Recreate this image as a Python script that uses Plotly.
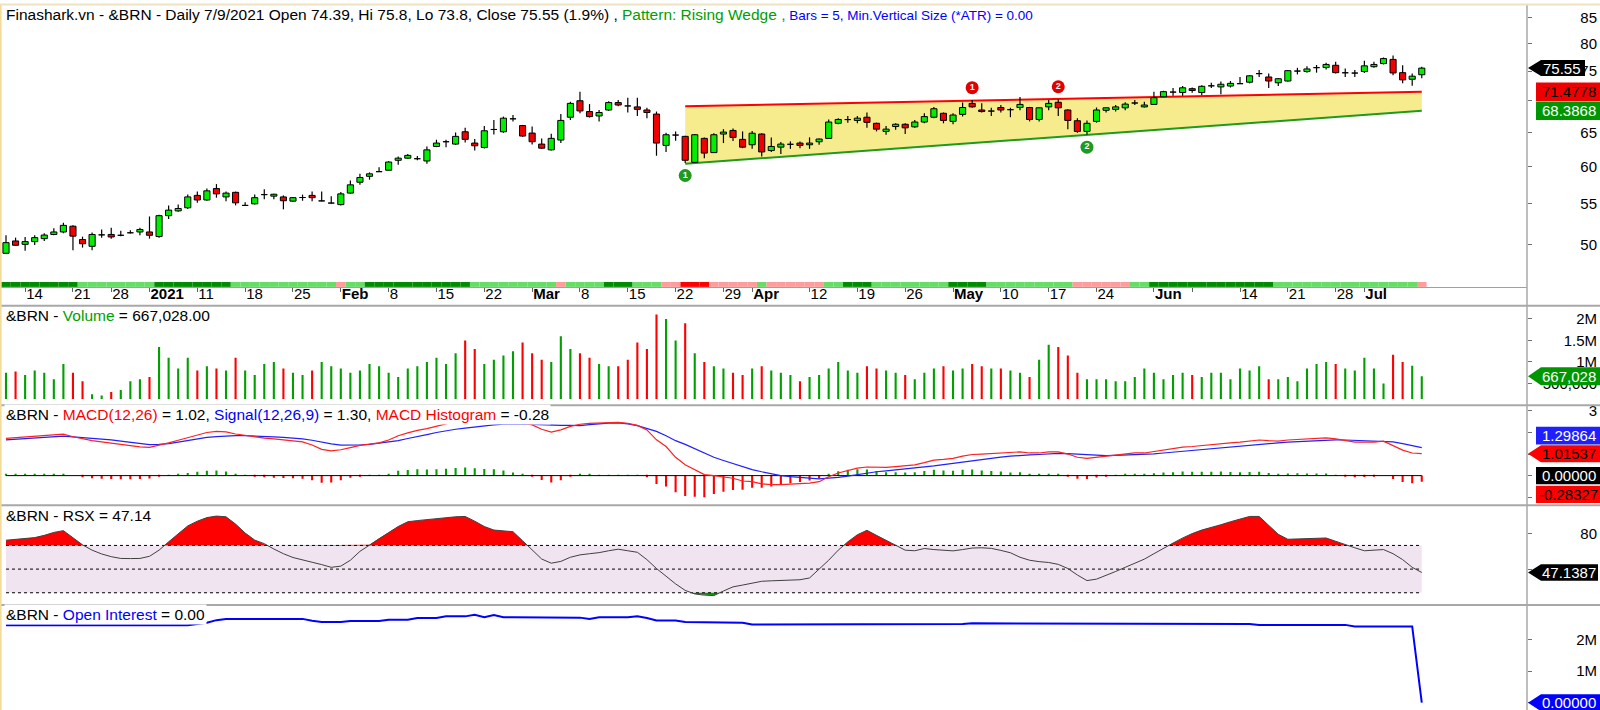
import math
import pandas as pd
import plotly.graph_objects as go

# ---------------------------------------------------------------- data
dates = pd.bdate_range("2020-12-10", "2021-07-09", freq="C",
                       holidays=["2020-12-25", "2021-01-01", "2021-04-02"])

open_ = [48.99, 50.43, 50.03, 50.35, 50.70, 51.20, 51.50, 52.20, 50.60, 49.80,
         51.15, 51.20, 51.10, 51.40, 51.50, 51.50, 50.95, 53.50, 54.10, 54.50,
         56.10, 55.50, 57.00, 55.90, 56.50, 54.80, 55.00, 56.20, 56.00, 55.90,
         55.35, 55.82, 56.10, 55.38, 55.10, 54.90, 56.40, 57.85, 58.66, 59.30,
         59.50, 60.90, 61.20, 61.12, 60.80, 62.90, 63.60, 63.25, 65.10, 63.40,
         62.75, 65.45, 65.10, 67.10, 66.05, 64.90, 63.25, 62.40, 63.85, 67.35,
         70.00, 68.25, 67.55, 68.50, 69.70, 69.15, 69.00, 68.50, 67.85, 63.05,
         64.60, 64.40, 60.60, 64.10, 62.00, 64.75, 65.30, 63.95, 63.15, 64.75,
         62.30, 62.80, 63.22, 63.40, 63.15, 63.60, 64.10, 66.40, 66.98, 66.85,
         67.35, 66.40, 65.15, 65.90, 66.25, 65.85, 66.60, 67.35, 67.97, 66.70,
         67.80, 69.57, 68.50, 68.33, 68.90, 68.55, 68.90, 68.90, 67.00, 69.00,
         69.75, 68.50, 66.80, 65.15, 66.70, 68.45, 68.60, 68.85, 69.63, 69.00,
         69.40, 70.65, 71.43, 71.35, 72.00, 71.35, 72.48, 72.30, 72.45, 72.85,
         73.10, 74.58, 74.00, 73.00, 73.30, 75.03, 74.95, 75.63, 75.65, 76.05,
         74.73, 74.68, 74.95, 75.80, 76.35, 77.10, 74.75, 73.60, 74.39]
high = [51.10, 50.82, 50.90, 51.10, 51.34, 51.95, 52.62, 52.30, 50.94, 51.42,
        51.80, 52.00, 51.64, 51.70, 52.00, 53.40, 53.60, 54.80, 54.90, 56.20,
        56.60, 57.00, 57.60, 56.60, 56.60, 55.20, 56.20, 56.90, 56.30, 56.10,
        55.90, 56.20, 56.60, 56.60, 56.00, 56.55, 58.10, 59.00, 59.20, 59.90,
        60.75, 61.45, 61.80, 61.50, 62.90, 63.90, 63.90, 65.00, 65.70, 64.00,
        66.00, 66.90, 67.45, 67.70, 66.15, 65.90, 64.10, 64.80, 67.85, 69.85,
        71.50, 69.45, 68.50, 69.90, 70.10, 70.50, 70.50, 68.85, 68.25, 64.95,
        65.15, 64.50, 64.75, 64.25, 64.88, 65.50, 65.60, 65.15, 65.20, 64.88,
        64.25, 63.55, 63.65, 63.65, 64.25, 64.10, 67.00, 67.20, 67.55, 67.55,
        68.10, 66.50, 66.00, 66.40, 66.40, 66.90, 67.97, 69.00, 68.10, 67.97,
        69.70, 70.10, 69.57, 68.85, 69.30, 68.85, 70.60, 69.00, 68.90, 70.10,
        70.25, 68.60, 67.20, 66.85, 68.90, 68.90, 69.30, 69.75, 70.10, 69.85,
        71.50, 71.65, 72.10, 72.45, 72.20, 72.60, 73.00, 73.20, 73.30, 74.00,
        74.30, 75.20, 74.60, 73.80, 75.20, 75.60, 75.90, 76.10, 76.50, 76.70,
        75.50, 75.20, 76.85, 76.70, 77.45, 77.80, 76.05, 74.60, 75.80]
low = [48.90, 49.85, 49.28, 49.96, 50.43, 51.10, 51.34, 49.33, 49.65, 49.33,
       50.82, 50.70, 51.00, 51.30, 51.10, 50.70, 50.82, 53.10, 54.00, 54.35,
       55.13, 55.40, 55.80, 55.35, 54.80, 54.75, 54.90, 55.60, 55.60, 54.30,
       55.25, 55.40, 55.35, 55.35, 55.05, 54.80, 56.30, 57.50, 58.20, 59.25,
       59.45, 60.25, 61.10, 60.90, 60.40, 62.80, 62.80, 63.10, 63.50, 62.30,
       62.60, 64.70, 64.95, 66.70, 64.35, 63.20, 62.55, 62.30, 63.40, 66.90,
       67.97, 67.30, 66.70, 68.35, 69.10, 68.10, 67.55, 67.20, 61.55, 62.10,
       63.75, 60.50, 60.50, 61.20, 61.93, 63.40, 63.70, 62.65, 62.55, 61.45,
       62.10, 61.80, 62.55, 62.65, 62.55, 63.15, 64.00, 66.25, 66.50, 66.40,
       65.70, 65.15, 64.65, 65.40, 64.75, 65.70, 66.40, 67.20, 66.40, 66.25,
       67.45, 68.85, 68.10, 67.55, 68.10, 67.35, 68.45, 66.70, 66.70, 68.45,
       67.55, 65.50, 64.95, 64.65, 66.50, 68.10, 68.25, 68.45, 69.30, 68.90,
       69.30, 70.60, 70.80, 70.80, 71.30, 70.90, 72.10, 71.05, 72.20, 72.80,
       72.90, 74.00, 72.10, 72.45, 73.20, 74.45, 74.75, 74.75, 75.30, 74.60,
       74.00, 74.00, 74.70, 75.60, 76.20, 74.30, 72.90, 72.50, 73.80]
close = [50.23, 49.92, 50.35, 50.82, 51.13, 51.50, 52.30, 51.00, 50.10, 51.20,
         51.20, 50.90, 51.12, 51.44, 51.80, 51.10, 53.50, 54.20, 54.40, 55.90,
         55.50, 56.70, 56.30, 56.40, 55.13, 54.82, 55.80, 56.25, 56.25, 55.40,
         55.80, 55.85, 55.80, 55.40, 55.13, 56.30, 57.50, 58.50, 59.00, 59.35,
         60.65, 61.20, 61.60, 61.15, 62.40, 63.40, 63.65, 64.40, 63.95, 63.00,
         65.25, 65.50, 67.20, 67.20, 64.45, 63.60, 62.65, 64.10, 66.85, 69.57,
         68.35, 67.45, 68.10, 69.70, 69.30, 69.10, 68.60, 68.10, 63.40, 64.65,
         64.65, 60.90, 64.65, 61.93, 64.65, 65.05, 64.25, 62.80, 64.88, 62.10,
         62.90, 63.25, 63.25, 63.05, 63.40, 64.00, 66.60, 67.00, 67.00, 67.20,
         66.55, 65.50, 65.50, 66.25, 65.70, 66.60, 67.45, 68.70, 66.85, 67.70,
         68.90, 69.00, 68.25, 68.35, 68.50, 68.60, 69.40, 67.00, 68.85, 69.57,
         68.85, 66.85, 65.15, 66.40, 68.50, 68.85, 69.00, 69.45, 69.65, 69.30,
         70.50, 71.50, 71.45, 72.15, 71.70, 72.40, 72.50, 72.75, 72.90, 72.90,
         74.20, 74.60, 73.30, 73.70, 75.10, 75.05, 75.40, 75.65, 76.20, 74.75,
         74.75, 74.70, 75.95, 76.20, 77.25, 74.70, 73.50, 74.14, 75.55]

volume_m = [0.75, 0.78, 0.70, 0.80, 0.75, 0.60, 0.95, 0.75, 0.55, 0.25,
            0.22, 0.30, 0.35, 0.55, 0.60, 0.65, 1.35, 1.10, 0.85, 1.10,
            0.80, 0.90, 0.85, 0.80, 1.10, 0.80, 0.70, 0.95, 1.00, 0.85,
            0.75, 0.70, 0.80, 1.00, 0.90, 0.85, 0.75, 0.80, 0.95, 0.90,
            0.75, 0.65, 0.85, 0.90, 1.00, 1.10, 0.95, 1.20, 1.50, 1.30,
            0.95, 1.05, 1.15, 1.25, 1.45, 1.20, 1.05, 1.00, 1.60, 1.30,
            1.20, 1.10, 0.95, 0.90, 0.90, 1.05, 1.45, 1.30, 2.10, 2.00,
            1.50, 1.90, 1.20, 1.00, 0.90, 0.85, 0.75, 0.70, 0.85, 0.90,
            0.80, 0.75, 0.70, 0.55, 0.65, 0.70, 0.85, 1.00, 0.80, 0.75,
            0.90, 0.85, 0.80, 0.75, 0.70, 0.60, 0.75, 0.85, 0.90, 0.80,
            0.85, 0.95, 0.90, 0.85, 0.85, 0.80, 0.75, 0.65, 1.05, 1.40,
            1.35, 1.15, 0.75, 0.60, 0.60, 0.60, 0.55, 0.55, 0.65, 0.85,
            0.75, 0.60, 0.70, 0.75, 0.70, 0.65, 0.75, 0.75, 0.60, 0.85,
            0.80, 0.90, 0.60, 0.60, 0.65, 0.55, 0.85, 0.95, 1.00, 0.95,
            0.85, 0.80, 1.10, 0.85, 0.50, 1.17, 1.00, 0.91, 0.667028]

macd = [1.73, 1.76, 1.78, 1.81, 1.85, 1.90, 1.92, 1.80, 1.70, 1.62,
        1.56, 1.50, 1.43, 1.38, 1.33, 1.31, 1.40, 1.52, 1.64, 1.75,
        1.88, 2.00, 2.05, 2.03, 1.93, 1.86, 1.80, 1.74, 1.70, 1.66,
        1.62, 1.56, 1.42, 1.22, 1.15, 1.20, 1.30, 1.40, 1.46, 1.52,
        1.65, 1.85, 1.98, 2.10, 2.18, 2.30, 2.40, 2.50, 2.58, 2.60,
        2.62, 2.64, 2.62, 2.55, 2.45, 2.35, 2.15, 2.02, 2.12, 2.28,
        2.38, 2.42, 2.44, 2.46, 2.47, 2.42, 2.33, 2.12, 1.66, 1.35,
        0.85, 0.50, 0.27, 0.05, 0.00, -0.05, -0.12, -0.25, -0.28, -0.38,
        -0.42, -0.42, -0.40, -0.40, -0.35, -0.28, -0.05, 0.12, 0.25, 0.35,
        0.40, 0.40, 0.38, 0.42, 0.45, 0.50, 0.60, 0.72, 0.75, 0.80,
        0.90, 0.98, 1.00, 1.02, 1.05, 1.05, 1.10, 1.05, 1.05, 1.10,
        1.10, 1.00, 0.85, 0.80, 0.85, 0.90, 0.95, 1.00, 1.05, 1.05,
        1.12, 1.20, 1.25, 1.32, 1.35, 1.40, 1.45, 1.50, 1.52, 1.55,
        1.60, 1.65, 1.62, 1.60, 1.65, 1.68, 1.70, 1.72, 1.75, 1.70,
        1.62, 1.55, 1.55, 1.55, 1.60, 1.40, 1.18, 1.05, 1.01537]
signal = [1.66, 1.69, 1.71, 1.73, 1.77, 1.81, 1.83, 1.80, 1.77, 1.74,
          1.70, 1.66, 1.60, 1.55, 1.49, 1.44, 1.45, 1.48, 1.55, 1.63,
          1.70, 1.77, 1.81, 1.84, 1.85, 1.85, 1.84, 1.82, 1.80, 1.77,
          1.74, 1.70, 1.64, 1.55, 1.47, 1.41, 1.40, 1.42, 1.45, 1.50,
          1.56, 1.62, 1.72, 1.80, 1.90, 2.00, 2.08, 2.15, 2.20, 2.26,
          2.31, 2.35, 2.38, 2.40, 2.40, 2.37, 2.35, 2.34, 2.33, 2.33,
          2.32, 2.36, 2.40, 2.43, 2.44, 2.40, 2.32, 2.20, 2.05, 1.85,
          1.62, 1.45, 1.25, 1.05, 0.85, 0.70, 0.55, 0.40, 0.28, 0.18,
          0.08, 0.00, -0.05, -0.10, -0.12, -0.15, -0.12, -0.08, -0.02, 0.05,
          0.12, 0.18, 0.22, 0.26, 0.30, 0.34, 0.39, 0.45, 0.51, 0.57,
          0.63, 0.70, 0.76, 0.81, 0.86, 0.90, 0.94, 0.96, 0.98, 1.01,
          1.03, 1.02, 0.99, 0.96, 0.94, 0.93, 0.94, 0.95, 0.97, 0.99,
          1.01, 1.05, 1.09, 1.13, 1.17, 1.22, 1.27, 1.31, 1.35, 1.39,
          1.43, 1.47, 1.50, 1.52, 1.55, 1.57, 1.60, 1.62, 1.65, 1.66,
          1.65, 1.63, 1.61, 1.60, 1.60, 1.56, 1.48, 1.40, 1.29864]
macd_hist = [0.07, 0.07, 0.07, 0.08, 0.08, 0.09, 0.09, 0.00, -0.07, -0.12,
             -0.14, -0.16, -0.17, -0.17, -0.16, -0.13, -0.05, 0.04, 0.09, 0.12,
             0.18, 0.23, 0.24, 0.19, 0.08, 0.01, -0.04, -0.08, -0.10, -0.11,
             -0.12, -0.14, -0.22, -0.33, -0.32, -0.21, -0.10, -0.02, 0.01, 0.02,
             0.09, 0.23, 0.26, 0.30, 0.28, 0.30, 0.32, 0.35, 0.38, 0.34,
             0.31, 0.29, 0.24, 0.15, 0.05, -0.02, -0.20, -0.32, -0.21, -0.05,
             0.06, 0.06, 0.04, 0.03, 0.03, 0.02, 0.01, -0.08, -0.39, -0.50,
             -0.77, -0.95, -0.98, -1.00, -0.85, -0.75, -0.67, -0.65, -0.56, -0.56,
             -0.50, -0.42, -0.35, -0.30, -0.23, -0.13, 0.07, 0.20, 0.27, 0.30,
             0.28, 0.22, 0.16, 0.16, 0.15, 0.16, 0.21, 0.27, 0.24, 0.23,
             0.27, 0.28, 0.24, 0.21, 0.19, 0.15, 0.16, 0.09, 0.07, 0.09,
             0.07, -0.02, -0.14, -0.16, -0.09, -0.03, 0.01, 0.05, 0.08, 0.06,
             0.11, 0.15, 0.16, 0.19, 0.18, 0.18, 0.18, 0.19, 0.17, 0.16,
             0.17, 0.18, 0.12, 0.08, 0.10, 0.11, 0.10, 0.10, 0.10, 0.04,
             -0.03, -0.08, -0.06, -0.05, 0.00, -0.16, -0.30, -0.35, -0.28327]

rsx = [74.4, 75.1, 75.8, 76.6, 78.5, 81.0, 82.5, 76.5, 70.5, 66.0,
       62.8, 60.5, 59.0, 58.9, 59.0, 60.8, 66.0, 73.0, 80.0, 86.5,
       90.5, 93.5, 94.8, 94.2, 88.0, 80.5, 74.5, 71.5, 67.0, 63.0,
       59.8, 57.5, 55.8, 53.8, 51.5, 52.5, 57.5, 65.0, 70.5, 76.0,
       80.8, 86.0, 90.0, 91.0, 92.0, 92.8, 93.4, 94.2, 94.5, 90.5,
       86.0, 83.0, 82.0, 81.6, 74.0, 66.0, 58.5, 55.0, 56.5, 60.0,
       62.0, 63.0, 63.9, 65.5, 66.8, 65.5, 64.2, 58.0, 50.5, 44.0,
       37.5, 32.0, 29.0, 28.0, 27.6, 31.5, 35.0, 36.5, 38.3, 39.7,
       40.1, 40.4, 40.6, 41.0, 42.5, 50.0, 57.5, 66.0, 73.0, 79.0,
       82.8, 78.5, 74.5, 70.2, 66.0, 65.5, 67.4, 66.5, 65.8, 65.4,
       66.5, 67.8, 68.0, 67.5, 65.8, 63.8, 60.0, 57.5, 56.3, 55.6,
       54.0, 50.5, 45.0, 40.3, 41.5, 44.5, 48.0, 51.5, 55.0, 58.4,
       63.0, 67.8, 72.0, 76.3, 80.0, 83.0, 85.0, 87.5, 90.0, 92.5,
       94.5, 94.5, 87.0, 79.4, 75.2, 75.5, 76.0, 76.5, 76.3, 73.5,
       70.5, 68.0, 65.5, 66.3, 66.5, 63.0, 58.0, 51.5, 47.1387]

oi_m = [2.46, 2.46, 2.46, 2.46, 2.46, 2.46, 2.46, 2.46, 2.46, 2.46,
        2.46, 2.46, 2.46, 2.46, 2.46, 2.46, 2.46, 2.46, 2.46, 2.46,
        2.50, 2.54, 2.62, 2.66, 2.66, 2.66, 2.66, 2.66, 2.68, 2.68,
        2.68, 2.66, 2.60, 2.56, 2.56, 2.56, 2.59, 2.59, 2.59, 2.59,
        2.63, 2.63, 2.63, 2.69, 2.69, 2.69, 2.74, 2.74, 2.74, 2.79,
        2.71, 2.78, 2.71, 2.71, 2.71, 2.70, 2.70, 2.70, 2.70, 2.70,
        2.70, 2.66, 2.71, 2.71, 2.71, 2.71, 2.74, 2.69, 2.61, 2.61,
        2.61, 2.56, 2.56, 2.56, 2.56, 2.54, 2.54, 2.54, 2.48, 2.48,
        2.48, 2.48, 2.48, 2.48, 2.50, 2.50, 2.50, 2.50, 2.50, 2.50,
        2.50, 2.50, 2.50, 2.50, 2.50, 2.50, 2.50, 2.50, 2.50, 2.50,
        2.50, 2.52, 2.52, 2.52, 2.52, 2.52, 2.52, 2.52, 2.52, 2.52,
        2.52, 2.52, 2.52, 2.52, 2.52, 2.52, 2.50, 2.50, 2.50, 2.50,
        2.50, 2.50, 2.50, 2.50, 2.50, 2.50, 2.50, 2.50, 2.50, 2.50,
        2.50, 2.47, 2.47, 2.47, 2.47, 2.47, 2.47, 2.47, 2.47, 2.47,
        2.47, 2.42, 2.42, 2.42, 2.42, 2.42, 2.42, 2.42, 0.00]

# ribbon state per bar (run lengths): dg dark green, lg light green, pk pink, rd red
ribbon_runs = [("dg", 8), ("lg", 8), ("dg", 8), ("lg", 11), ("pk", 1), ("lg", 2),
               ("dg", 11), ("lg", 9), ("pk", 1), ("lg", 4), ("dg", 3), ("lg", 3),
               ("pk", 2), ("rd", 3), ("pk", 5), ("lg", 1), ("pk", 6), ("lg", 2),
               ("dg", 3), ("lg", 8), ("dg", 4), ("lg", 9), ("pk", 6), ("lg", 2),
               ("dg", 13), ("lg", 15), ("pk", 1)]

tick_dates = ["2020-12-14", "2020-12-21", "2020-12-28", "2021-01-04", "2021-01-11",
              "2021-01-18", "2021-01-25", "2021-02-01", "2021-02-08", "2021-02-15",
              "2021-02-22", "2021-03-01", "2021-03-08", "2021-03-15", "2021-03-22",
              "2021-03-29", "2021-04-01", "2021-04-12", "2021-04-19", "2021-04-26",
              "2021-05-03", "2021-05-10", "2021-05-17", "2021-05-24", "2021-06-01",
              "2021-06-07", "2021-06-14", "2021-06-21", "2021-06-28", "2021-07-01"]
tick_text = ["14", "21", "28", "<b>2021</b>", "11", "18", "25", "<b>Feb</b>", "8", "15",
             "22", "<b>Mar</b>", "8", "15", "22", "29", "<b>Apr</b>", "12", "19", "26",
             "<b>May</b>", "10", "17", "24", "<b>Jun</b>", "", "14", "21", "28", "<b>Jul</b>"]

# rising wedge pattern
wedge_bars = [71, 148]
wedge_upper = [69.1, 71.4778]
wedge_lower = [60.4, 68.3868]
peak_bars = [101, 110]
peak_labels = ["1", "2"]
trough_bars = [71, 113]
trough_labels = ["1", "2"]

# ---------------------------------------------------------------- style / geometry
W, H = 1600, 710
FONT = "Liberation Sans, Arial, Helvetica, sans-serif"
XR = 1527 / W
BAR_PX = 9.566
XMIN, XMAX = -6 / BAR_PX, (1527 - 6) / BAR_PX
UPC, DNC = "#00EE00", "#F00000"
VGREEN = "#00A000"
RIB = {"dg": "#008C00", "lg": "#66DD66", "pk": "#FF9D9D", "rd": "#FF0000"}
PRICE_BOTTOM_PX = 279.5


def py(Y):
    return 1 - Y / H


N = len(dates)
assert all(len(a) == N for a in [open_, high, low, close, volume_m, macd, signal,
                                  macd_hist, rsx, oi_m])
xs = list(range(N))
idx = {d.strftime("%Y-%m-%d"): i for i, d in enumerate(dates)}
tickvals = [idx[d] for d in tick_dates]
ribbon = [s for s, n in ribbon_runs for _ in range(n)]
volume = [v * 1e6 for v in volume_m]
oi = [v * 1e6 for v in oi_m]

PR = [45.82, 87.77]
PRL = [math.log10(PR[0]), math.log10(PR[1])]
PX_PER_LN = PRICE_BOTTOM_PX / ((PRL[1] - PRL[0]) * math.log(10))


def price_paper(p):
    frac = (math.log10(p) - PRL[0]) / (PRL[1] - PRL[0])
    return py(PRICE_BOTTOM_PX * (1 - frac))


fig = go.Figure()

# ---------------- price panel
fig.add_trace(go.Scatter(x=wedge_bars, y=wedge_lower, mode="lines", line=dict(width=0),
                         hoverinfo="skip", showlegend=False))
fig.add_trace(go.Scatter(x=wedge_bars, y=wedge_upper, mode="lines", line=dict(width=0),
                         fill="tonexty", fillcolor="#F6EC8E", hoverinfo="skip", showlegend=False))
fig.add_trace(go.Scatter(x=wedge_bars, y=wedge_upper, mode="lines",
                         line=dict(color="#FF0000", width=2), hoverinfo="skip", showlegend=False))
fig.add_trace(go.Scatter(x=wedge_bars, y=wedge_lower, mode="lines",
                         line=dict(color="#1E9A1E", width=2), hoverinfo="skip", showlegend=False))

wx, wy = [], []
for i in xs:
    wx += [i, i, None]
    wy += [low[i], high[i], None]
fig.add_trace(go.Scatter(x=wx, y=wy, mode="lines", line=dict(color="black", width=1.2),
                         hoverinfo="skip", showlegend=False))

HW = 0.32
for up in (True, False):
    bx, by = [], []
    for i in xs:
        if (close[i] >= open_[i]) != up:
            continue
        o, c = open_[i], close[i]
        bx += [i - HW, i + HW, i + HW, i - HW, i - HW, None]
        by += [o, o, c, c, o, None]
    fig.add_trace(go.Scatter(x=bx, y=by, mode="lines", fill="toself",
                             fillcolor=UPC if up else DNC,
                             line=dict(color="black", width=1),
                             hoverinfo="skip", showlegend=False))

off = math.exp(12.5 / PX_PER_LN)
fig.add_trace(go.Scatter(
    x=peak_bars, y=[high[b] * off for b in peak_bars], mode="markers+text",
    text=["<b>%s</b>" % t for t in peak_labels], textposition="middle center",
    textfont=dict(color="white", size=9, family=FONT),
    marker=dict(size=13, color="#E00000"), hoverinfo="skip", showlegend=False))
fig.add_trace(go.Scatter(
    x=trough_bars, y=[low[b] / off for b in trough_bars], mode="markers+text",
    text=["<b>%s</b>" % t for t in trough_labels], textposition="middle center",
    textfont=dict(color="white", size=9, family=FONT),
    marker=dict(size=13, color="#1E9A1E"), hoverinfo="skip", showlegend=False))

# ---------------- ribbon
fig.add_trace(go.Bar(x=xs, y=[1] * N, base=0, width=1.0, yaxis="y2",
                     marker=dict(color=[RIB[s] for s in ribbon], line=dict(width=0)),
                     hoverinfo="skip", showlegend=False))

# ---------------- volume
fig.add_trace(go.Bar(x=xs, y=volume, width=0.22, yaxis="y3",
                     marker=dict(color=[VGREEN if close[i] >= open_[i] else "#FF0000" for i in xs],
                                 line=dict(width=0)),
                     hoverinfo="skip", showlegend=False))

# ---------------- MACD
fig.add_trace(go.Bar(x=xs, y=macd_hist, width=0.22, yaxis="y4",
                     marker=dict(color=[VGREEN if h >= 0 else "#FF0000" for h in macd_hist],
                                 line=dict(width=0)),
                     hoverinfo="skip", showlegend=False))
fig.add_trace(go.Scatter(x=[0, N - 1], y=[0, 0], yaxis="y4", mode="lines",
                         line=dict(color="black", width=1), hoverinfo="skip", showlegend=False))
fig.add_trace(go.Scatter(x=xs, y=signal, yaxis="y4", mode="lines",
                         line=dict(color="#2020FF", width=1.2), hoverinfo="skip", showlegend=False))
fig.add_trace(go.Scatter(x=xs, y=macd, yaxis="y4", mode="lines",
                         line=dict(color="#FF2020", width=1.2), hoverinfo="skip", showlegend=False))


# ---------------- RSX
def with_crossings(xv, yv, level):
    ox, oy = [xv[0]], [yv[0]]
    for k in range(1, len(xv)):
        y0, y1 = yv[k - 1], yv[k]
        if (y0 - level) * (y1 - level) < 0:
            t = (level - y0) / (y1 - y0)
            ox.append(xv[k - 1] + t * (xv[k] - xv[k - 1]))
            oy.append(level)
        ox.append(xv[k])
        oy.append(yv[k])
    return ox, oy


fig.add_trace(go.Scatter(x=[0, N - 1], y=[30, 30], yaxis="y5", mode="lines", line=dict(width=0),
                         hoverinfo="skip", showlegend=False))
fig.add_trace(go.Scatter(x=[0, N - 1], y=[70, 70], yaxis="y5", mode="lines", line=dict(width=0),
                         fill="tonexty", fillcolor="#F0E4F0", hoverinfo="skip", showlegend=False))
for lev, cmp_, col in ((70, max, "#FF0000"), (30, min, "#00A000")):
    cx, cy = with_crossings(xs, rsx, lev)
    fig.add_trace(go.Scatter(x=cx, y=[lev] * len(cx), yaxis="y5", mode="lines", line=dict(width=0),
                             hoverinfo="skip", showlegend=False))
    fig.add_trace(go.Scatter(x=cx, y=[cmp_(v, lev) for v in cy], yaxis="y5", mode="lines",
                             line=dict(width=0), fill="tonexty", fillcolor=col,
                             hoverinfo="skip", showlegend=False))
for lev in (30, 50, 70):
    fig.add_trace(go.Scatter(x=[0, N - 1], y=[lev, lev], yaxis="y5", mode="lines",
                             line=dict(color="black", width=1, dash="dot"),
                             hoverinfo="skip", showlegend=False))
fig.add_trace(go.Scatter(x=xs, y=rsx, yaxis="y5", mode="lines",
                         line=dict(color="#404040", width=1), hoverinfo="skip", showlegend=False))

# ---------------- open interest
fig.add_trace(go.Scatter(x=xs, y=oi, yaxis="y6", mode="lines",
                         line=dict(color="#0000FF", width=2), hoverinfo="skip", showlegend=False))

# ---------------------------------------------------------------- axes
tickfont = dict(family=FONT, size=15, color="black")
base_y = dict(anchor="x", side="right", showgrid=False, zeroline=False, showline=False,
              ticks="outside", ticklen=4, tickcolor="#707070", showticklabels=False,
              fixedrange=True)
lab_y = dict(anchor="free", position=1.0, side="right", showgrid=False, zeroline=False,
             showline=False, ticks="", ticklabelposition="inside", ticklabeloverflow="allow",
             tickfont=tickfont, fixedrange=True)

price_ticks = [50, 55, 60, 65, 70, 75, 80, 85]
price_lab_ticks = [50, 55, 60, 65, 75, 80, 85]       # 70 is hidden behind the value tags
vol_ticks = [500000, 1000000, 1500000, 2000000]
vol_text = ["500,000", "1M", "1.5M", "2M"]
macd_ticks = [-1, 0, 1, 2, 3]
macd_lab_ticks = [3]
rsx_ticks = [50, 80]
rsx_lab_ticks = [80]
oi_ticks = [0, 1000000, 2000000]
oi_lab_ticks = [1000000, 2000000]
oi_text = ["1M", "2M"]

VOL_R = [0.1386e6, 2.293e6]
MACD_R = [-1.3226, 3.2396]
RSX_R = [20.84, 103.19]
OI_R = [-0.2303e6, 3.082e6]

fig.update_layout(
    width=W, height=H, autosize=False, margin=dict(l=0, r=0, t=0, b=0),
    paper_bgcolor="white", plot_bgcolor="white", showlegend=False, hovermode=False,
    barmode="overlay",
    xaxis=dict(domain=[0, XR], range=[XMIN, XMAX], anchor="y2", showgrid=False, zeroline=False,
               showline=True, linecolor="#A0A0A0", linewidth=1, ticks="outside", ticklen=4,
               tickcolor="#606060", tickvals=tickvals, ticktext=tick_text, tickangle=0,
               ticklabelposition="outside right", ticklabelstandoff=-7,
               tickfont=tickfont, fixedrange=True),
    yaxis=dict(base_y, domain=[py(PRICE_BOTTOM_PX), 1], type="log", range=PRL,
               tickvals=price_ticks),
    yaxis2=dict(domain=[py(284.5), py(PRICE_BOTTOM_PX)], range=[0, 1], anchor="x",
                visible=False, fixedrange=True),
    yaxis3=dict(base_y, domain=[py(397.3), py(304)], range=VOL_R, tickvals=vol_ticks),
    yaxis4=dict(base_y, domain=[py(503), py(404)], range=MACD_R, tickvals=macd_ticks),
    yaxis5=dict(base_y, domain=[py(603), py(505)], range=RSX_R, tickvals=rsx_ticks),
    yaxis6=dict(base_y, domain=[0, py(605)], range=OI_R, tickvals=oi_ticks),
    yaxis7=dict(lab_y, overlaying="y", type="log", range=PRL, tickvals=price_lab_ticks,
                ticktext=[str(v) for v in price_lab_ticks]),
    yaxis8=dict(lab_y, overlaying="y3", range=VOL_R, tickvals=vol_ticks, ticktext=vol_text),
    yaxis9=dict(lab_y, overlaying="y4", range=MACD_R, tickvals=macd_lab_ticks,
                ticktext=[str(v) for v in macd_lab_ticks]),
    yaxis10=dict(lab_y, overlaying="y5", range=RSX_R, tickvals=rsx_lab_ticks,
                 ticktext=[str(v) for v in rsx_lab_ticks]),
    yaxis11=dict(lab_y, overlaying="y6", range=OI_R, tickvals=oi_lab_ticks, ticktext=oi_text),
)
for ya, yv in (("y7", 60), ("y8", 1e6), ("y9", 1), ("y10", 60), ("y11", 1e6)):
    fig.add_trace(go.Scatter(x=[0], y=[yv], yaxis=ya, mode="markers",
                             marker=dict(opacity=0), hoverinfo="skip", showlegend=False))

# ---------------------------------------------------------------- frame lines
line_c = "#A8A8A8"
for Y in (303.5, 403.5, 504.0, 604.5):
    fig.add_shape(type="line", xref="paper", yref="paper", x0=0, x1=1, y0=py(Y), y1=py(Y),
                  line=dict(color=line_c, width=2), layer="above")
fig.add_shape(type="line", xref="paper", yref="paper", x0=XR, x1=XR, y0=0, y1=1,
              line=dict(color=line_c, width=1.5), layer="above")
fig.add_shape(type="line", xref="paper", yref="paper", x0=0.0004, x1=0.0004, y0=0, y1=1,
              line=dict(color="#F3DC9A", width=2), layer="above")
fig.add_shape(type="line", xref="paper", yref="paper", x0=0, x1=1, y0=0.9992, y1=0.9992,
              line=dict(color="#EFE2C0", width=2), layer="above")


# ---------------------------------------------------------------- titles
def title(Y, text, bg=None):
    fig.add_annotation(xref="paper", yref="paper", x=4 / W, y=py(Y), xanchor="left",
                       yanchor="middle", showarrow=False, text=text,
                       font=dict(family=FONT, size=15.5, color="black"),
                       bgcolor=bg, borderpad=1)


G = "<span style='color:#00A000'>%s</span>"
B = "<span style='color:#0000FF'>%s</span>"
BS = "<span style='color:#0000FF;font-size:13.5px'>%s</span>"
R = "<span style='color:#FF0000'>%s</span>"
title(11, "Finashark.vn - &amp;BRN - Daily 7/9/2021 Open 74.39, Hi 75.8, Lo 73.8, "
          "Close 75.55 (1.9%) , " + G % "Pattern: Rising Wedge ," +
          BS % " Bars = 5, Min.Vertical Size (*ATR) = 0.00")
title(313, "&amp;BRN - " + G % "Volume" + " = 667,028.00")
title(413, "&amp;BRN - " + R % "MACD(12,26)" + " = 1.02, " + B % "Signal(12,26,9)" +
      " = 1.30, " + R % "MACD Histogram" + " = -0.28", bg="white")
title(514, "&amp;BRN - RSX = 47.14")
title(614, "&amp;BRN - " + B % "Open Interest" + " = 0.00", bg="white")


# ---------------------------------------------------------------- value tags
def tag(yref, yval, text, kind, fill, fcolor, h=8.5, shift=0, right=0, tx=1569, anchor="center"):
    if kind == "arrow":
        path = (f"M -72,{shift} L -59,{shift + h} L {right},{shift + h} "
                f"L {right},{shift - h} L -59,{shift - h} Z")
    else:
        path = f"M -64,{shift + h} L 0,{shift + h} L 0,{shift - h} L -64,{shift - h} Z"
    fig.add_shape(type="path", path=path, xref="paper", yref=yref, xsizemode="pixel",
                  ysizemode="pixel", xanchor=1, yanchor=yval, fillcolor=fill,
                  line=dict(width=0), layer="above")
    fig.add_annotation(xref="paper", yref=yref, x=tx / W, y=yval, yshift=shift, text=text,
                       showarrow=False, xanchor=anchor, yanchor="middle",
                       font=dict(family=FONT, size=15, color=fcolor))


tag("paper", price_paper(close[-1]), "75.55", "arrow", "black", "white", h=8, right=-15, tx=1562)
tag("paper", price_paper(wedge_upper[-1]), "71.4778", "rect", "#EE0000", "black", h=9.2)
tag("paper", price_paper(wedge_lower[-1]), "68.3868", "rect", "#009600", "white", h=9.2)
tag("y3", volume[-1], "667,028", "arrow", "#009600", "white", h=9)
tag("y4", signal[-1], "1.29864", "rect", "#2020FF", "white", h=8.8, shift=12)
tag("y4", macd[-1], "1.01537", "arrow", "#FF0000", "black", h=8.5)
tag("y4", 0, "0.00000", "rect", "black", "white", h=8.7)
tag("y4", macd_hist[-1], "-0.28327", "rect", "#FF0000", "black", h=8.7, shift=-12.6,
    tx=1537, anchor="left")
tag("y5", rsx[-1], "47.1387", "arrow", "black", "white", h=8.3, right=-2)
tag("y6", oi[-1], "0.00000", "arrow", "#0000FF", "white", h=8.5)

fig.write_html("out.html")
